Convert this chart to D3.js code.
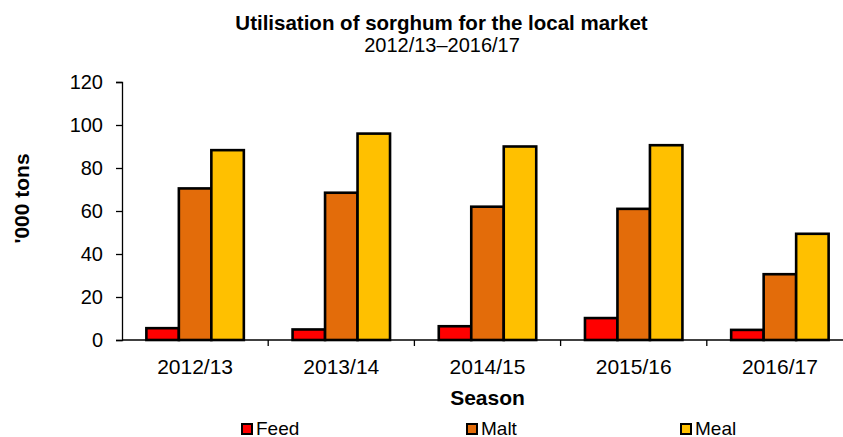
<!DOCTYPE html>
<html>
<head>
<meta charset="utf-8">
<script src="https://cdn.jsdelivr.net/npm/d3@7"></script>
<style>
body{margin:0;background:#fff;}
svg{display:block;font-family:"Liberation Sans",Arial,sans-serif;}
.title{font-weight:bold;font-size:20.5px;}
.subtitle{font-size:20px;}
.label{font-weight:bold;font-size:21px;}
</style>
</head>
<body>
<svg id="chart"></svg>
<script>
var seasons=["2012/13","2013/14","2014/15","2015/16","2016/17"]
var seriesNames=["Feed","Malt","Meal"]
var feed=[5.5,4.9,6.4,10.2,4.7]
var malt=[70.5,68.5,62,61,30.6]
var meal=[88.3,96,90,90.6,49.4]
var yTicks=[0,20,40,60,80,100,120]
var colors=["#ff0000","#e36c0a","#ffc000"]

var screen={width:843,height:437}
var margins={left:122,right:-10,top:82,bottom:97}
var graph={
    width:screen.width-margins.left-margins.right,
    height:screen.height-margins.top-margins.bottom
}

var svg=d3.select("#chart")
    .attr("width",screen.width)
    .attr("height",screen.height)

var rows=seasons.map(function(s,i){
    return {season:s,values:[feed[i],malt[i],meal[i]]}
})

var xScale=d3.scaleBand()
    .domain(seasons)
    .range([0,graph.width])
    .paddingInner(1/3)
    .paddingOuter(1/6)
var xInner=d3.scaleBand()
    .domain(seriesNames)
    .range([0,xScale.bandwidth()])
var yScale=d3.scaleLinear()
    .domain([0,120])
    .range([graph.height,0])

var plot=svg.append("g")
    .attr("transform","translate("+margins.left+","+margins.top+")")

//bars
var groups=plot.selectAll(".group")
    .data(rows)
    .enter()
    .append("g")
    .attr("transform",function(d){return "translate("+xScale(d.season)+",0)"})
groups.selectAll("rect")
    .data(function(d){return d.values.map(function(v,i){return {name:seriesNames[i],value:v,i:i}})})
    .enter()
    .append("rect")
    .attr("x",function(d){return xInner(d.name)})
    .attr("width",xInner.bandwidth())
    .attr("y",function(d){return yScale(d.value)})
    .attr("height",function(d){return graph.height-yScale(d.value)})
    .attr("fill",function(d){return colors[d.i]})
    .attr("stroke","#000")
    .attr("stroke-width",2.6)

//axes
var yAxis=d3.axisLeft(yScale).tickValues(yTicks).tickSize(6).tickPadding(13)
var yg=plot.append("g").call(yAxis)
yg.select(".domain").attr("stroke-width",1.3)
yg.selectAll("line").attr("stroke-width",1.3)
yg.selectAll("text").attr("font-size",20).attr("font-family","Liberation Sans, Arial, sans-serif").attr("fill","#000")

var xg=plot.append("g")
    .attr("transform","translate(0,"+graph.height+")")
xg.append("line")
    .attr("x1",0).attr("x2",graph.width)
    .attr("stroke","#000").attr("stroke-width",1.3)
xg.selectAll(".tick")
    .data(seasons)
    .enter()
    .append("line")
    .attr("x1",function(d){return xScale(d)+xScale.bandwidth()+xScale.step()/6})
    .attr("x2",function(d){return xScale(d)+xScale.bandwidth()+xScale.step()/6})
    .attr("y1",0).attr("y2",6)
    .attr("stroke","#000").attr("stroke-width",1.3)
xg.selectAll(".lbl")
    .data(seasons)
    .enter()
    .append("text")
    .text(function(d){return d})
    .attr("x",function(d){return xScale(d)+xScale.bandwidth()/2})
    .attr("y",33.5)
    .attr("text-anchor","middle")
    .attr("font-size",21)

//labels
svg.append("text").text("Utilisation of sorghum for the local market")
    .classed("title",true).attr("text-anchor","middle").attr("x",441.5).attr("y",30)
svg.append("text").text("2012/13\u20132016/17")
    .classed("subtitle",true).attr("text-anchor","middle").attr("x",442).attr("y",52)
svg.append("text").text("Season")
    .classed("label",true).attr("text-anchor","middle")
    .attr("x",margins.left+graph.width/2).attr("y",405)
svg.append("g")
    .attr("transform","translate(29,198.5)")
    .append("text")
    .text("'000 tons")
    .classed("label",true)
    .attr("text-anchor","middle")
    .attr("transform","rotate(-90)")

//legend
var legendX=[242,467,681]
var legend=svg.selectAll(".legend")
    .data(seriesNames)
    .enter()
    .append("g")
    .attr("transform",function(d,i){return "translate("+legendX[i]+",424)"})
legend.append("rect")
    .attr("width",10).attr("height",10)
    .attr("fill",function(d,i){return colors[i]})
    .attr("stroke","#000").attr("stroke-width",2)
legend.append("text")
    .text(function(d){return d})
    .attr("x",14).attr("y",10.5)
    .attr("font-size",19)
</script>
</body>
</html>
